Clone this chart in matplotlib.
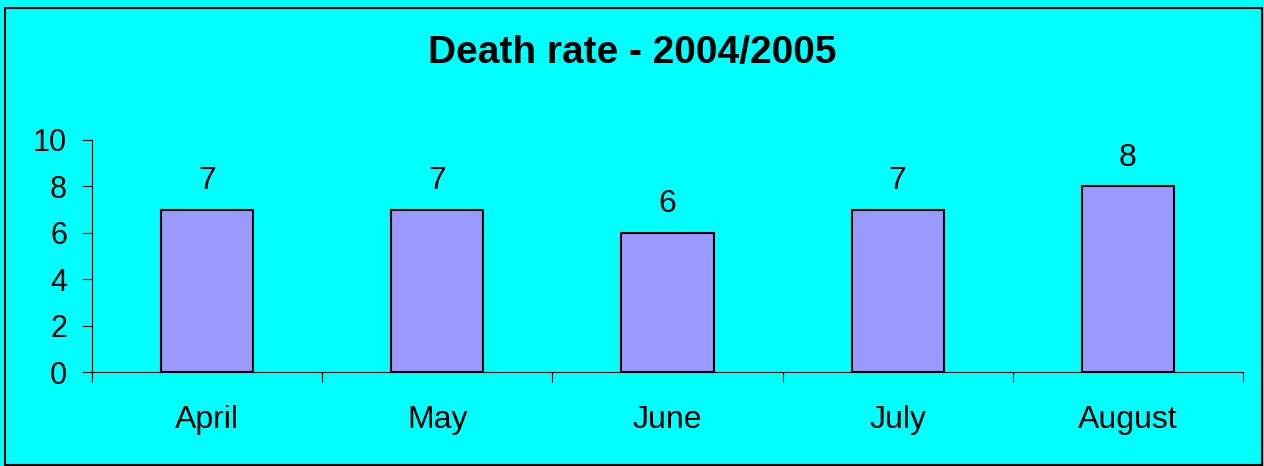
import matplotlib
matplotlib.use("Agg")
import matplotlib.pyplot as plt
from matplotlib.patches import Rectangle

# chart data
months = ["April", "May", "June", "July", "August"]
deaths = [7, 7, 6, 7, 8]
y_ticks = [0, 2, 4, 6, 8, 10]

plt.rcParams['font.family'] = ['Liberation Sans', 'DejaVu Sans']

fig = plt.figure(figsize=(12.64, 4.66), dpi=100, facecolor='#00FFFF')
ax = fig.add_axes([0.0728, 0.2017, 0.9106, 0.4979])
ax.set_facecolor('#00FFFF')

x = list(range(len(months)))
bars = ax.bar(x, deaths, width=0.4, color='#9999FF', edgecolor='black', linewidth=1.5, zorder=3)

# value labels above each bar
for xi, v in zip(x, deaths):
    ax.annotate(str(v), (xi, v), xytext=(0, 10), textcoords='offset points',
                ha='center', va='bottom', fontsize=23)

ax.set_xlim(-0.5, len(months) - 0.5)
ax.set_ylim(0, 10)
ax.set_yticks(y_ticks)
ax.tick_params(axis='y', labelsize=22, length=7, pad=11, width=0.8)

# ticks on category boundaries, labels in the middle
ax.set_xticks([i - 0.5 for i in range(len(months) + 1)])
ax.set_xticklabels([])
ax.set_xticks(x, minor=True)
ax.set_xticklabels(months, minor=True, fontsize=23)
ax.tick_params(axis='x', which='major', length=7, width=0.8)
ax.tick_params(axis='x', which='minor', length=0, pad=24)

for s in ['top', 'right']:
    ax.spines[s].set_visible(False)
for s in ['left', 'bottom']:
    ax.spines[s].set_linewidth(0.8)

fig.text(0.5, 0.887, "Death rate - 2004/2005", ha='center', va='center',
         fontsize=28, fontweight='bold')

# outer frame
fig.patches.append(Rectangle((5 / 1264, 1 / 466), 1257 / 1264, 457 / 466,
                             transform=fig.transFigure, fill=False,
                             edgecolor='black', linewidth=1.5))

fig.savefig("out.png", dpi=100, facecolor=fig.get_facecolor())
